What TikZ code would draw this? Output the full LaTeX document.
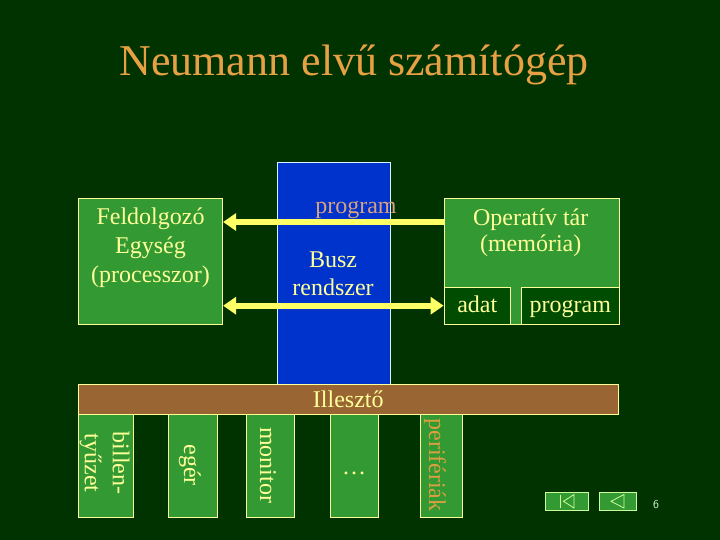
\documentclass[tikz,border=0pt]{standalone}
\usepackage{fontspec}
\setmainfont{Liberation Serif}
\usetikzlibrary{arrows.meta}
\definecolor{bgc}{HTML}{003300}
\definecolor{boxg}{HTML}{339933}
\definecolor{innerg}{HTML}{004C00}
\definecolor{busb}{HTML}{0033CC}
\definecolor{brownc}{HTML}{996633}
\definecolor{txty}{HTML}{FFFF99}
\definecolor{arry}{HTML}{FFFF66}
\definecolor{titleo}{HTML}{E8A045}
\definecolor{progc}{HTML}{D8A080}
\definecolor{perc}{HTML}{D8A040}
\definecolor{navline}{HTML}{CCFF99}
\tikzset{
  gbox/.style={draw=txty,fill=boxg,line width=0.8pt},
  ibox/.style={draw=txty,fill=innerg,line width=0.8pt},
  txt/.style={text=txty,font=\fontsize{24}{28}\selectfont,inner sep=0pt,anchor=base},
  rtxt/.style={text=txty,font=\fontsize{24}{28}\selectfont,inner sep=0pt,rotate=-90,align=center},
  bigarrow/.style={draw=arry,line width=6pt,-{Triangle[length=13pt 0 0,width=17pt 0 0]}},
  navbox/.style={draw=navline,fill=boxg,line width=1pt},
  navicon/.style={draw=navline,line width=0.8pt}
}
\begin{document}
\begin{tikzpicture}[x=1pt,y=-1pt]
\path[fill=bgc] (0,0) rectangle (720,540);
\useasboundingbox (0,0) rectangle (720,540);
% title
\node[text=titleo,font=\fontsize{44}{50}\selectfont,inner sep=0pt,anchor=base] (title) at (354,76) {Neumann elvű számítógép};
% bus
\node[draw=white!85!cyan,fill=busb,line width=0.8pt,minimum width=113pt,minimum height=236pt,inner sep=0pt] (bus) at (333.5,280) {};
% processor
\node[gbox,minimum width=144.4pt,minimum height=125.7pt,inner sep=0pt] (proc) at (150.5,261.2) {};
\node[txt] (p1) at (150.5,225) {Feldolgozó};
\node[txt] (p2) at (150.5,254) {Egység};
\node[txt] (p3) at (150.5,282) {(processzor)};
% memory
\node[gbox,minimum width=175pt,minimum height=125.7pt,inner sep=0pt] (mem) at (531.5,261.2) {};
\node[ibox,minimum width=66.7pt,minimum height=36.3pt,inner sep=0pt] (adat) at (477.35,305.85) {};
\node[ibox,minimum width=97.3pt,minimum height=36.3pt,inner sep=0pt] (mprog) at (570.35,305.85) {};
\node[txt] (m1) at (530.7,225.7) {Operatív tár};
\node[txt] (m2) at (530.7,251.7) {(memória)};
\node[txt] (adt) at (477.3,312.7) {adat};
\node[txt] (prt) at (570.3,312.7) {program};
% bus texts
\node[txt] (b1) at (333,267.3) {Busz};
\node[txt] (b2) at (333,295.7) {rendszer};
% arrows
\coordinate (a1) at (mem.west |- 0,222);
\coordinate (a1p) at (proc.east |- 0,222);
\draw[bigarrow] (a1) -- (a1p);
\coordinate (a2) at (adat.west |- 0,305.7);
\coordinate (a2p) at (proc.east |- 0,305.7);
\draw[bigarrow,{Triangle[length=13pt 0 0,width=17pt 0 0]}-{Triangle[length=13pt 0 0,width=17pt 0 0]}] (a2) -- (a2p);
\node[txt,text=progc] (bprog) at (356,213.3) {program};
% illeszto
\node[draw=txty,fill=brownc,line width=0.8pt,minimum width=540pt,minimum height=29.7pt,inner sep=0pt] (ill) at (348,399.2) {};
\node[txt] (illt) at (348.3,407.3) {Illesztő};
% peripherals
\node[gbox,minimum width=54.4pt,minimum height=102.7pt,inner sep=0pt,anchor=north west] (k1) at (78.3,414) {};
\node[gbox,minimum width=48.4pt,minimum height=102.7pt,inner sep=0pt,anchor=north west] (k2) at (168.3,414) {};
\node[gbox,minimum width=48.3pt,minimum height=102.7pt,inner sep=0pt,anchor=north west] (k3) at (246,414) {};
\node[gbox,minimum width=48.3pt,minimum height=102.7pt,inner sep=0pt,anchor=north west] (k4) at (330,414) {};
\node[gbox,minimum width=42.3pt,minimum height=102.7pt,inner sep=0pt,anchor=north west] (k5) at (420,414) {};
\node[rtxt] (t1) at (104.5,463) {billen-\\tyűzet};
\node[rtxt] (t2) at (190,465) {egér};
\node[rtxt] (t3) at (268,465) {monitor};
\node[txt] (t4) at (354.2,474) {…};
\node[rtxt,text=perc] (t5) at (435,465) {perifériák};
% nav buttons
\node[navbox,minimum width=42.7pt,minimum height=18pt,inner sep=0pt] (nav1) at (567.3,501.3) {};
\node[navbox,minimum width=36.7pt,minimum height=18pt,inner sep=0pt] (nav2) at (618.3,501.3) {};
\draw[navicon,line width=1.6pt] (560.5,494.5) -- (560.5,508);
\draw[navicon] (574,494.5) -- (563.5,501.3) -- (574,508) -- cycle;
\draw[navicon] (624,494.5) -- (611,501.3) -- (624,508) -- cycle;
\node[text=navline!60!white,font=\sffamily\fontsize{12}{14}\selectfont,inner sep=0pt,anchor=base] (pg) at (656,508) {6};
\end{tikzpicture}
\end{document}
